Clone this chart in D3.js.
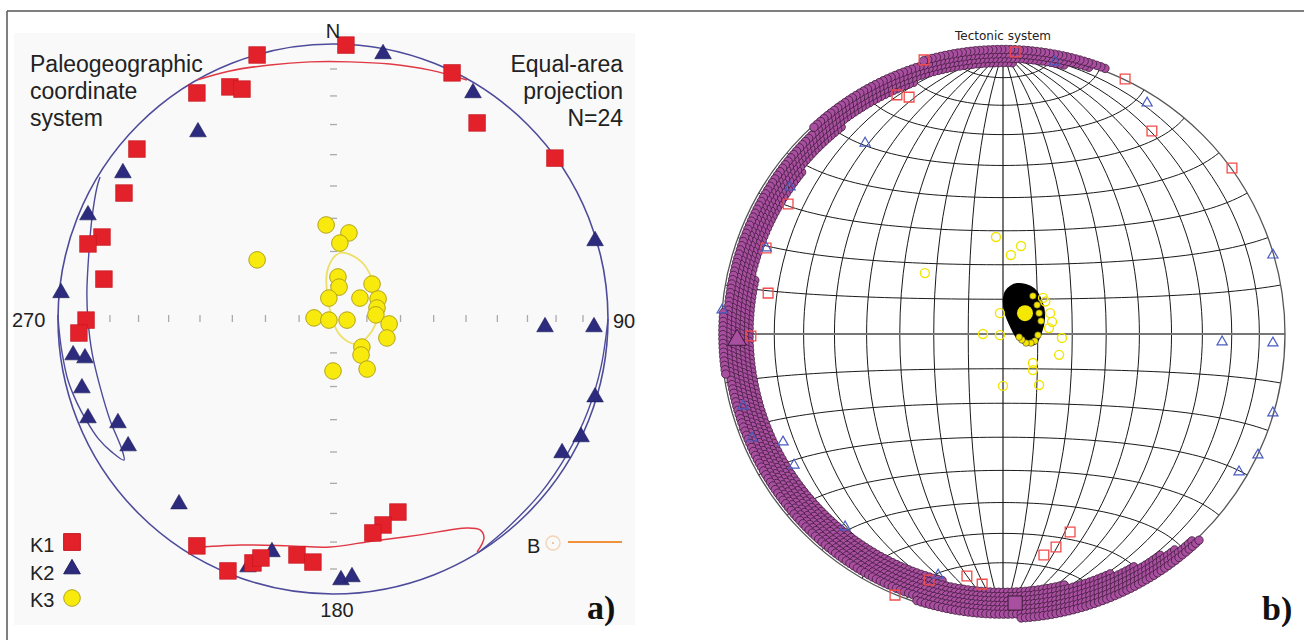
<!DOCTYPE html>
<html><head><meta charset="utf-8">
<script src="https://cdn.jsdelivr.net/npm/d3@7"></script>
<style>html,body{margin:0;padding:0;background:#fff}svg{display:block}</style>
</head><body><svg id="c" width="1304" height="640"></svg>
<script>
// ---------- DATA (unit-circle projected coordinates: x east, y north) ----------
// Panel a: paleogeographic system, equal-area, N=24
const k1A = [[-0.276,0.960],[0.047,0.996],[0.433,0.895],[0.524,0.713],[0.807,0.585],[-0.495,0.822],
  [-0.375,0.844],[-0.331,0.836],[-0.713,0.618],[-0.760,0.458],[-0.840,0.298],[-0.891,0.273],
  [-0.833,0.145],[-0.898,-0.004],[-0.924,-0.051],[-0.495,-0.825],[-0.382,-0.916],[-0.291,-0.887],
  [-0.262,-0.869],[-0.131,-0.858],[-0.073,-0.884],[0.236,-0.702],[0.182,-0.749],[0.145,-0.778]];
const k2A = [[-0.491,0.680],[-0.764,0.531],[-0.891,0.378],[-0.989,0.095],[0.182,0.964],[0.509,0.822],
  [0.953,0.284],[-0.945,-0.131],[-0.902,-0.142],[-0.913,-0.251],[-0.891,-0.360],[-0.782,-0.378],
  [-0.745,-0.462],[-0.560,-0.673],[-0.222,-0.847],[-0.309,-0.902],[0.771,-0.029],[0.949,-0.029],
  [0.953,-0.284],[0.902,-0.429],[0.833,-0.487],[0.029,-0.949],[0.069,-0.938]];
const k3A = [[-0.025,0.342],[0.058,0.313],[0.025,0.276],[0.018,0.153],[0.022,0.116],[0.142,0.127],
  [-0.015,0.076],[0.098,0.076],[0.164,0.073],[0.160,0.040],[0.156,0.015],[-0.069,0.004],
  [-0.015,-0.004],[0.051,-0.004],[0.204,-0.018],[0.196,-0.069],[0.105,-0.102],[0.102,-0.131],
  [0.0,-0.189],[0.124,-0.182],[-0.276,0.215]];
const k1EllipseTop = [[-0.495,0.869],[-0.375,0.902],[-0.229,0.924],[-0.084,0.935],[0.062,0.935],
  [0.207,0.927],[0.353,0.905],[0.487,0.869]];
const k1EllipseBottom = [[-0.520,-0.833],[-0.338,-0.822],[-0.156,-0.825],[-0.011,-0.829],[0.145,-0.807],
  [0.316,-0.785],[0.487,-0.760],[0.535,-0.767],[0.549,-0.796],[0.524,-0.847]];
const k2EllipseLeft = [[-0.847,0.516],[-0.858,0.480],[-0.876,0.371],[-0.887,0.251],[-0.895,0.095],
  [-0.891,-0.004],[-0.876,-0.124],[-0.847,-0.247],[-0.811,-0.367],[-0.767,-0.476],[-0.760,-0.513],
  [-0.804,-0.484],[-0.855,-0.433],[-0.898,-0.367],[-0.931,-0.305],[-0.964,-0.222],[-0.985,-0.124],
  [-0.996,-0.040],[-1.0,0.015]];
const k2EllipseRight = [[1.0,0.0],[0.975,-0.172],[0.926,-0.337],[0.851,-0.492],[0.755,-0.633],
  [0.636,-0.758],[0.530,-0.848]];
const k3Ellipse = [[0.025,0.240],[0.105,0.207],[0.153,0.105],[0.153,-0.022],[0.087,-0.091],
  [0.025,-0.058],[-0.018,0.069],[-0.018,0.185]];
const tickPlunges = [10,20,30,40,50,60,70,80];
const textLeftA = ["Paleogeographic","coordinate","system"];
const textRightA = ["Equal-area","projection","N=24"];
const legendA = ["K1","K2","K3"];

// Panel b: tectonic system
const k1B = [[0.043,1.0],[-0.376,0.848],[-0.333,0.840],[-0.280,0.972],[0.433,0.904],[0.528,0.720],
  [0.812,0.589],[-0.762,0.461],[-0.840,0.305],[-0.833,0.145],[-0.894,-0.007],[0.238,-0.702],
  [0.188,-0.755],[0.145,-0.784],[-0.128,-0.858],[-0.074,-0.887],[-0.262,-0.872],[-0.383,-0.926]];
const k2B = [[-0.489,0.677],[-0.755,0.521],[-0.840,0.305],[-0.996,0.085],[0.184,0.965],[0.511,0.819],
  [0.957,0.280],[0.777,-0.028],[0.957,-0.032],[0.957,-0.280],[0.904,-0.429],[0.837,-0.489],
  [-0.922,-0.255],[-0.890,-0.369],[-0.780,-0.383],[-0.741,-0.465],[-0.560,-0.684],[-0.230,-0.855]];
const k3B = [[-0.025,0.344],[0.064,0.312],[0.028,0.280],[-0.277,0.216],[0.142,0.128],[-0.011,0.074],
  [0.167,0.074],[0.174,0.043],[0.163,0.021],[-0.071,0.0],[-0.011,-0.004],[0.209,-0.014],
  [0.199,-0.074],[0.106,-0.103],[0.106,-0.128],[0.0,-0.184],[0.128,-0.181],[0.150,0.115]];
const k3BootBlob = [[0.010,0.152],[0.050,0.178],[0.110,0.160],[0.142,0.100],[0.146,0.050],[0.135,0.004],
  [0.116,-0.034],[0.085,-0.038],[0.050,-0.014],[0.028,0.025],[0.008,0.074],[0.002,0.121]];
const k3BootEdge = [[0.106,0.135],[0.121,0.103],[0.128,0.074],[0.135,0.046],[0.124,-0.004],
  [0.113,-0.025],[0.099,-0.032],[0.082,-0.032],[0.067,-0.021],[0.057,-0.011]];
const k3MeanB = [0.078,0.074];
const k1MeanB = [0.043,-0.954];
const k2MeanB = [-0.943,-0.021];
// K1 bootstrap band envelope: azimuth (deg, clockwise from N), inner & outer radius
const bandAz    = [21, 12, 0, -30, -60, -90, -120, -150, -180, -200, -215, -224];
const bandInner = [1.0, 0.975, 0.96, 0.94, 0.905, 0.897, 0.89, 0.895, 0.905, 0.92, 0.96, 1.0];
const bandOuter = [1.01, 1.015, 1.02, 1.0, 0.985, 0.995, 0.99, 0.985, 1.007, 1.02, 1.02, 1.01];

// ---------- DRAWING ----------
const PI = Math.PI;
const svg = d3.select("#c");
svg.append("rect").attr("width",1304).attr("height",640).attr("fill","#fff");
svg.append("line").attr("x1",7).attr("x2",1304).attr("y1",11).attr("y2",11).attr("stroke","#555").attr("stroke-width",1.5);
svg.append("line").attr("x1",7).attr("x2",7).attr("y1",11).attr("y2",640).attr("stroke","#555").attr("stroke-width",1.5);

// ===== Panel a =====
const ax = d3.scaleLinear().domain([-1,1]).range([58,608]);
const ay = d3.scaleLinear().domain([-1,1]).range([594,44]);
const ga = svg.append("g");
ga.append("rect").attr("x",14).attr("y",33).attr("width",621).attr("height",592).attr("fill","#f9f9f9");
const rOfPlunge = p => Math.SQRT2*Math.sin((90-p)/2*PI/180);
tickPlunges.forEach(p => {
  const r = rOfPlunge(p);
  [-r, r].forEach(v => {
    ga.append("line").attr("x1",ax(v)).attr("x2",ax(v)).attr("y1",ay(0)-4).attr("y2",ay(0)+3)
      .attr("stroke","#aaa").attr("stroke-width",1.3);
    ga.append("line").attr("y1",ay(v)).attr("y2",ay(v)).attr("x1",ax(0)-3).attr("x2",ax(0)+4)
      .attr("stroke","#aaa").attr("stroke-width",1.3);
  });
});
ga.append("circle").attr("cx",ax(0)).attr("cy",ay(0)).attr("r",ax(1)-ax(0))
  .attr("fill","none").attr("stroke","#4d4b9a").attr("stroke-width",1.6);
const lineA = d3.line().x(d=>ax(d[0])).y(d=>ay(d[1])).curve(d3.curveCatmullRom);
const lineAc = d3.line().x(d=>ax(d[0])).y(d=>ay(d[1])).curve(d3.curveCatmullRomClosed);
ga.append("path").attr("d",lineA(k2EllipseLeft)).attr("fill","none").attr("stroke","#4d4b9a").attr("stroke-width",1.4);
ga.append("path").attr("d",lineA(k2EllipseRight)).attr("fill","none").attr("stroke","#4d4b9a").attr("stroke-width",1.4);
ga.append("path").attr("d",lineA(k1EllipseTop)).attr("fill","none").attr("stroke","#e03844").attr("stroke-width",1.5);
ga.append("path").attr("d",lineA(k1EllipseBottom)).attr("fill","none").attr("stroke","#e03844").attr("stroke-width",1.5);
ga.append("path").attr("d",lineAc(k3Ellipse)).attr("fill","none").attr("stroke","#ece066").attr("stroke-width",1.8);

ga.selectAll(".k3a").data(k3A).join("circle").attr("cx",d=>ax(d[0])).attr("cy",d=>ay(d[1])).attr("r",8.3)
  .attr("fill","#f8ea0c").attr("stroke","#b3a41a").attr("stroke-width",1);
const triA = d3.symbol(d3.symbolTriangle, 120);
ga.selectAll(".k2a").data(k2A).join("path").attr("d",triA)
  .attr("transform",d=>`translate(${ax(d[0])},${ay(d[1])})`).attr("fill","#2c2b7e").attr("stroke","#1d1c5a").attr("stroke-width",0.6);
const sqA = d3.symbol(d3.symbolSquare, 280);
ga.selectAll(".k1a").data(k1A).join("path").attr("d",sqA)
  .attr("transform",d=>`translate(${ax(d[0])},${ay(d[1])})`).attr("fill","#e3212b").attr("stroke","#c4161f").attr("stroke-width",0.6);

const fontA = "'Liberation Sans', Arial, sans-serif";
textLeftA.forEach((t,i)=> ga.append("text").attr("x",30).attr("y",72+i*27).text(t)
  .attr("font-family",fontA).attr("font-size",23).attr("fill","#222"));
textRightA.forEach((t,i)=> ga.append("text").attr("x",623).attr("y",72+i*27).attr("text-anchor","end").text(t)
  .attr("font-family",fontA).attr("font-size",23).attr("fill","#222"));
ga.append("text").attr("x",ax(0)).attr("y",38).attr("text-anchor","middle").text("N").attr("font-family",fontA).attr("font-size",20).attr("fill","#222");
ga.append("text").attr("x",12).attr("y",327).text("270").attr("font-family",fontA).attr("font-size",20).attr("fill","#222");
ga.append("text").attr("x",613).attr("y",328).text("90").attr("font-family",fontA).attr("font-size",20).attr("fill","#222");
ga.append("text").attr("x",337).attr("y",617).attr("text-anchor","middle").text("180").attr("font-family",fontA).attr("font-size",20).attr("fill","#222");
legendA.forEach((t,i)=> ga.append("text").attr("x",30).attr("y",552+i*27.5).text(t)
  .attr("font-family",fontA).attr("font-size",20).attr("fill","#222"));
ga.append("path").attr("d",d3.symbol(d3.symbolSquare,280)()).attr("transform","translate(72,542)").attr("fill","#e3212b").attr("stroke","#c4161f");
ga.append("path").attr("d",d3.symbol(d3.symbolTriangle,120)()).attr("transform","translate(72,569)").attr("fill","#2c2b7e").attr("stroke","#1d1c5a");
ga.append("circle").attr("cx",72).attr("cy",598).attr("r",8.3).attr("fill","#f8ea0c").attr("stroke","#b3a41a");
ga.append("text").attr("x",527).attr("y",553).text("B").attr("font-family",fontA).attr("font-size",20).attr("fill","#222");
ga.append("circle").attr("cx",553).attr("cy",543).attr("r",7).attr("fill","none").attr("stroke","#f3d2b5").attr("stroke-width",1.3);
ga.append("circle").attr("cx",553).attr("cy",543).attr("r",1).attr("fill","#eeb080");
ga.append("line").attr("x1",568).attr("x2",622).attr("y1",542).attr("y2",542).attr("stroke","#f0913c").attr("stroke-width",2);
ga.append("text").attr("x",587).attr("y",619).text("a)").attr("font-family","'Liberation Serif','Times New Roman',serif")
  .attr("font-weight","bold").attr("font-size",34).attr("fill","#111");

// ===== Panel b =====
const bx = d3.scaleLinear().domain([-1,1]).range([721,1285]);
const by = d3.scaleLinear().domain([-1,1]).range([616,52]);
const RB = bx(1)-bx(0);
const gb = svg.append("g");
const proj = d3.geoAzimuthalEqualArea().scale(RB/Math.SQRT2).translate([bx(0),by(0)]).clipAngle(90).precision(0.1);
const gpath = d3.geoPath(proj);
const grat = d3.geoGraticule().extent([[-180,-90],[180,90.001]]).step([10,10]);
grat.lines().forEach(l => {
  const c = l.coordinates;
  const isMer = c[0][0] === c[c.length-1][0];
  const main = (isMer && Math.abs(c[0][0])<1e-9) || (!isMer && Math.abs(c[0][1])<1e-9);
  gb.append("path").attr("d",gpath(l)).attr("fill","none")
    .attr("stroke", main ? "#777" : "#1a1a1a").attr("stroke-width", main ? 2 : 1);
});
gb.append("circle").attr("cx",bx(0)).attr("cy",by(0)).attr("r",RB).attr("fill","none").attr("stroke","#555").attr("stroke-width",1.3);

// K1 bootstrap band
const innerS = d3.scaleLinear().domain(bandAz).range(bandInner);
const outerS = d3.scaleLinear().domain(bandAz).range(bandOuter);
const bandDots = [];
let row = 0;
for (let r = 0.885; r <= 1.026; r += 0.0155, row++) {
  const step = 4.4/(r*RB)*180/PI;
  const off = (row%2)*step/2;
  for (let az = bandAz[0]-off; az >= bandAz[bandAz.length-1]; az -= step) {
    if (r >= innerS(az)-1e-6 && r <= outerS(az)+1e-6)
      bandDots.push([r*Math.sin(az*PI/180), r*Math.cos(az*PI/180)]);
  }
}
gb.selectAll(".band").data(bandDots).join("circle").attr("cx",d=>bx(d[0])).attr("cy",d=>by(d[1])).attr("r",4.2)
  .attr("fill","#a84f9f").attr("stroke","#3d1b3a").attr("stroke-width",0.8);

// K3 bootstrap blob
const lineBc = d3.line().x(d=>bx(d[0])).y(d=>by(d[1])).curve(d3.curveCatmullRomClosed);
gb.append("path").attr("d",lineBc(k3BootBlob)).attr("fill","#000").attr("stroke","#000").attr("stroke-width",1.5);
gb.selectAll(".k3e").data(k3BootEdge).join("circle").attr("cx",d=>bx(d[0])).attr("cy",d=>by(d[1])).attr("r",3.3)
  .attr("fill","#f5e600").attr("stroke","#444").attr("stroke-width",0.6);
gb.append("circle").attr("cx",bx(k3MeanB[0])).attr("cy",by(k3MeanB[1])).attr("r",8).attr("fill","#f5e800");

gb.selectAll(".k3b").data(k3B).join("circle").attr("cx",d=>bx(d[0])).attr("cy",d=>by(d[1])).attr("r",4.5)
  .attr("fill","none").attr("stroke","#f2e400").attr("stroke-width",1.4);
const sqB = d3.symbol(d3.symbolSquare, 95);
gb.selectAll(".k1b").data(k1B).join("path").attr("d",sqB)
  .attr("transform",d=>`translate(${bx(d[0])},${by(d[1])})`).attr("fill","none").attr("stroke","#f24b4b").attr("stroke-width",1.3);
const triB = d3.symbol(d3.symbolTriangle, 45);
gb.selectAll(".k2b").data(k2B).join("path").attr("d",triB)
  .attr("transform",d=>`translate(${bx(d[0])},${by(d[1])})`).attr("fill","none").attr("stroke","#4a5cc0").attr("stroke-width",1.2);
gb.append("path").attr("d",d3.symbol(d3.symbolSquare,200)()).attr("transform",`translate(${bx(k1MeanB[0])},${by(k1MeanB[1])})`)
  .attr("fill","#a84f9f").attr("stroke","#3d1b3a").attr("stroke-width",1);
gb.append("path").attr("d",d3.symbol(d3.symbolTriangle,150)()).attr("transform",`translate(${bx(k2MeanB[0])},${by(k2MeanB[1])})`)
  .attr("fill","#a84f9f").attr("stroke","#3d1b3a").attr("stroke-width",1);

gb.append("text").attr("x",bx(0)).attr("y",40).attr("text-anchor","middle").text("Tectonic system")
  .attr("font-family","'DejaVu Sans', sans-serif").attr("font-size",12).attr("fill","#222");
gb.append("text").attr("x",1262).attr("y",620).text("b)").attr("font-family","'Liberation Serif','Times New Roman',serif")
  .attr("font-weight","bold").attr("font-size",34).attr("fill","#111");
</script></body></html>
